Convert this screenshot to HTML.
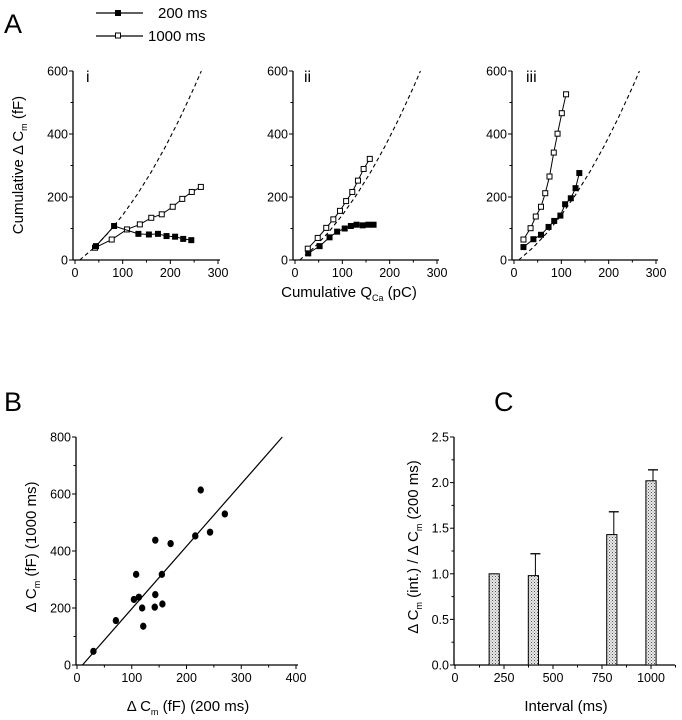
<!DOCTYPE html>
<html><head><meta charset="utf-8"><style>
html,body{margin:0;padding:0;background:#fff}
svg{display:block;font-family:"Liberation Sans",sans-serif}
</style></head><body>
<svg id="fig" width="682" height="720" viewBox="0 0 682 720" xmlns="http://www.w3.org/2000/svg">
<defs><pattern id="stip" width="3" height="3" patternUnits="userSpaceOnUse"><rect width="3" height="3" fill="#e8e8e8"/><rect width="1" height="1" fill="#555"/><rect x="1.5" y="1.5" width="1" height="1" fill="#888"/></pattern></defs>
<text x="4" y="33" font-size="27">A</text>
<text x="4" y="411" font-size="27">B</text>
<text x="494" y="411" font-size="27">C</text>
<g>
<line x1="96" y1="13" x2="143" y2="13" stroke="#000" stroke-width="1.2"/><rect x="115" y="10" width="6" height="6" fill="#000"/>
<text x="158" y="18" font-size="15">200 ms</text>
<line x1="96" y1="36" x2="143" y2="36" stroke="#000" stroke-width="1.2"/><rect x="115.5" y="33" width="5" height="5" fill="#fff" stroke="#000"/>
<text x="148" y="41" font-size="15">1000 ms</text>
</g>
<text transform="translate(23,165) rotate(-90)" text-anchor="middle" font-size="15">Cumulative Δ C<tspan font-size="9" dy="4">m</tspan><tspan dy="-4"> (fF)</tspan></text>
<text x="349" y="297" text-anchor="middle" font-size="15">Cumulative Q<tspan font-size="9" dy="4">Ca</tspan><tspan dy="-4"> (pC)</tspan></text>
<text transform="translate(36,547) rotate(-90)" text-anchor="middle" font-size="15">Δ C<tspan font-size="9" dy="4">m</tspan><tspan dy="-4"> (fF)   (1000 ms)</tspan></text>
<text x="188" y="711" text-anchor="middle" font-size="15">Δ C<tspan font-size="9" dy="4">m</tspan><tspan dy="-4"> (fF)  (200 ms)</tspan></text>
<text transform="translate(418,547) rotate(-90)" text-anchor="middle" font-size="15">Δ C<tspan font-size="9" dy="4">m</tspan><tspan dy="-4"> (int.) / Δ C</tspan><tspan font-size="9" dy="4">m</tspan><tspan dy="-4"> (200 ms)</tspan></text>
<text x="566" y="711" text-anchor="middle" font-size="15">Interval (ms)</text>
</svg>
<script>
// Panel A data
const aFilled_i_x=[44,82,133,155,174,192,210,227,244];
const aFilled_i_y=[44,108,83,81,83,76,74,67,63];
const aOpen_i_x=[42,77,109,136,160,182,205,225,245,264];
const aOpen_i_y=[39,65,97,113,134,145,169,194,216,232];
const aFilled_ii_x=[28,52,73,89,105,118,130,143,155,166];
const aFilled_ii_y=[21,44,72,90,100,108,112,110,112,112];
const aOpen_ii_x=[27,48,66,81,95,108,121,133,145,158];
const aOpen_ii_y=[36,70,102,129,156,187,216,252,289,321];
const aFilled_iii_x=[20,41,57,73,85,98,108,120,130,138];
const aFilled_iii_y=[41,66,80,105,124,141,177,196,228,276];
const aOpen_iii_x=[20,35,46,57,66,75,84,92,101,110];
const aOpen_iii_y=[65,101,138,169,212,265,341,401,466,526];
const fitQ=[10,40,70,100,130,160,190,220,250,265];
const aTicksX=[0,100,200,300];
const aTicksY=[0,200,400,600];
// Panel B data
const bX=[30,71,108,104,113,119,121,143,143,142,155,156,171,216,226,243,270];
const bY=[48,156,318,230,238,200,136,438,247,203,318,214,426,453,614,466,530];
const bFitX=[10,375];
const bFitY=[0,800];
const bTicksX=[0,100,200,300,400];
const bTicksY=[0,200,400,600,800];
// Panel C data
const cIntervals=[200,400,800,1000];
const cRatio=[1.0,0.98,1.43,2.02];
const cErr=[0,0.24,0.25,0.12];
const cTicksX=[0,250,500,750,1000];
const cTicksY=[0,0.5,1.0,1.5,2.0,2.5];
const cTickLabelsY=["0.0","0.5","1.0","1.5","2.0","2.5"];

const NS="http://www.w3.org/2000/svg",svg=document.getElementById('fig');
function el(t,a,p){const e=document.createElementNS(NS,t);for(const k in a)e.setAttribute(k,a[k]);(p||svg).appendChild(e);return e;}
function grp(name){const g=el('g',{});


return g;}

function axes(g,sx,sy,x0,x1,y0,y1,tx,ty,txl,tyl,minorX,minorY){
  el('line',{x1:x0,y1:y0,x2:x1,y2:y0,stroke:'#000','stroke-width':1.3},g);
  el('line',{x1:x0,y1:y0,x2:x0,y2:y1,stroke:'#000','stroke-width':1.3},g);
  tx.forEach((v,i)=>{el('line',{x1:sx(v),y1:y0,x2:sx(v),y2:y0+4,stroke:'#000'},g);
    const t=el('text',{x:sx(v),y:y0+17,'text-anchor':'middle','font-size':12.5},g);t.textContent=txl?txl[i]:v;});
  ty.forEach((v,i)=>{el('line',{x1:x0,y1:sy(v),x2:x0-4,y2:sy(v),stroke:'#000'},g);
    const t=el('text',{x:x0-5,y:sy(v)+4.5,'text-anchor':'end','font-size':12.5},g);t.textContent=tyl?tyl[i]:v;});
  (minorX||[]).forEach(v=>el('line',{x1:sx(v),y1:y0,x2:sx(v),y2:y0+2.5,stroke:'#000'},g));
  (minorY||[]).forEach(v=>el('line',{x1:x0,y1:sy(v),x2:x0-2.5,y2:sy(v),stroke:'#000'},g));
}
function series(g,sx,sy,xs,ys,filled,name){
  const s=el('g',{},g);
  
  
  el('polyline',{points:xs.map((x,i)=>sx(x)+','+sy(ys[i])).join(' '),fill:'none',stroke:'#000','stroke-width':1},s);
  xs.forEach((x,i)=>{const r=el('rect',filled?{x:sx(x)-3,y:sy(ys[i])-3,width:6,height:6,fill:'#000'}:{x:sx(x)-2.5,y:sy(ys[i])-2.5,width:5,height:5,fill:'#fff',stroke:'#000'},s);
    
    });
}
const panels=[
 {n:'i',ax:73,x0:75,x3:218,lx:86,F:[aFilled_i_x,aFilled_i_y],O:[aOpen_i_x,aOpen_i_y]},
 {n:'ii',ax:293,x0:295,x3:437,lx:304,F:[aFilled_ii_x,aFilled_ii_y],O:[aOpen_ii_x,aOpen_ii_y]},
 {n:'iii',ax:512,x0:514,x3:656,lx:526,F:[aFilled_iii_x,aFilled_iii_y],O:[aOpen_iii_x,aOpen_iii_y]}];
panels.forEach(p=>{
  const g=grp('panel-a-'+p.n);
  const sx=v=>p.x0+(p.x3-p.x0)*v/300, sy=v=>260-(260-71)*v/600;
  axes(g,sx,sy,p.ax,p.x3+2,260,71,aTicksX,aTicksY,null,null,[50,150,250],[100,300,500]);
  const t=el('text',{x:p.lx,y:82,'font-size':16},g);t.textContent=p.n;
  const d=el('polyline',{points:fitQ.map(q=>{const v=0.00466*(q-10)*(q-10)+1.164*(q-10);return sx(q)+','+sy(Math.min(v,600));}).join(' '),fill:'none',stroke:'#000','stroke-dasharray':'4,3','stroke-width':1.1},g);
  
  
  series(g,sx,sy,p.O[0],p.O[1],false,'series-1000ms');
  series(g,sx,sy,p.F[0],p.F[1],true,'series-200ms');
});
// Panel B
(function(){const g=grp('panel-b');
 const sx=v=>77+v*(296-77)/400, sy=v=>665-v*(665-437)/800;
 axes(g,sx,sy,76,298,665,437,bTicksX,bTicksY,null,null,[50,150,250,350],[100,300,500,700]);
 const l=el('line',{x1:sx(bFitX[0]),y1:sy(bFitY[0]),x2:sx(bFitX[1]),y2:sy(bFitY[1]),stroke:'#000','stroke-width':1.2},g);
 
 
 bX.forEach((x,i)=>{const c=el('ellipse',{cx:sx(x),cy:sy(bY[i]),rx:3.2,ry:3.6,fill:'#000'},g);
  
  });
})();
// Panel C
(function(){const g=grp('panel-c');
 const sx=v=>455+v*(651-455)/1000, sy=v=>665-v*(665-437)/2.5;
 axes(g,sx,sy,454,675,665,437,cTicksX,cTicksY,null,cTickLabelsY,[125,375,625,875,1125],[0.25,0.75,1.25,1.75,2.25]);
 cIntervals.forEach((x,i)=>{const w=sx(26)-sx(0);
  if(cErr[i]>0){const e=el('g',{},g);
   
   
   el('line',{x1:sx(x)+2,y1:sy(cRatio[i]),x2:sx(x)+2,y2:sy(cRatio[i]+cErr[i]),stroke:'#000'},e);
   el('line',{x1:sx(x)-3,y1:sy(cRatio[i]+cErr[i]),x2:sx(x)+7,y2:sy(cRatio[i]+cErr[i]),stroke:'#000','stroke-width':1.3},e);}
  const r=el('rect',{x:sx(x)-w,y:sy(cRatio[i]),width:2*w,height:sy(0)-sy(cRatio[i]),fill:'url(#stip)',stroke:'#000','stroke-width':1},g);
  
  });
})();
</script>
</body></html>
